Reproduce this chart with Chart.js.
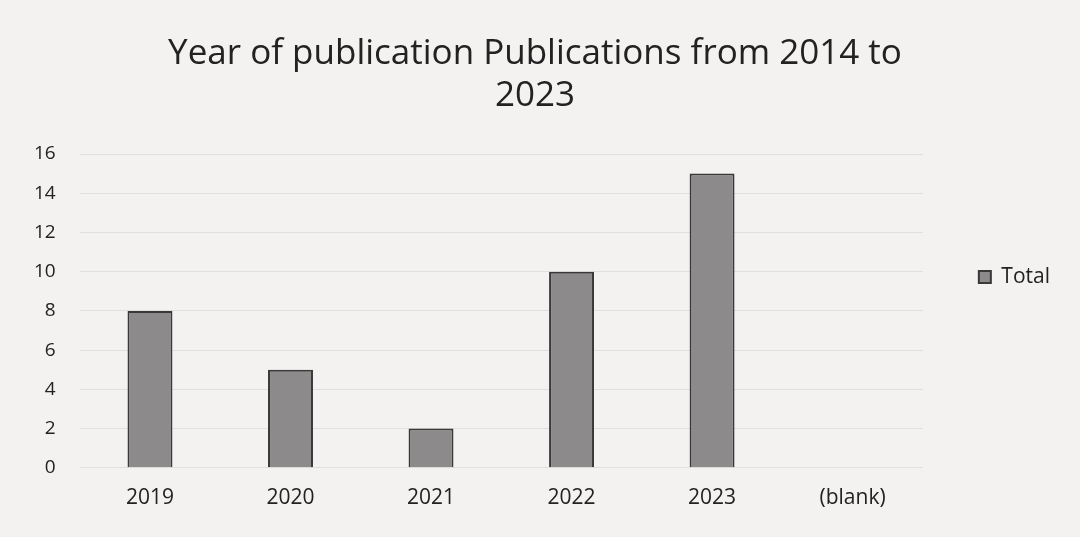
<!DOCTYPE html>
<html>
<head>
    <title>Year of publication</title>
    <script src="https://cdn.jsdelivr.net/npm/chart.js"></script>
    <style>
        html, body { margin: 0; padding: 0; background: #f4f2f1; }
        #wrap { width: 1080px; height: 537px; }
    </style>
</head>
<body>
    <div id="wrap"><canvas id="myChart"></canvas></div>
    <script>
        // data
        const years = ['2019', '2020', '2021', '2022', '2023', '(blank)'];
        const totals = [8, 5, 2, 10, 15, null];
        const yTicks = [0, 2, 4, 6, 8, 10, 12, 14, 16];

        const config = {
            type: 'bar',
            data: {
                labels: years,
                datasets: [{
                    label: 'Total',
                    data: totals,
                    backgroundColor: '#8c8a8b',
                    borderColor: '#3a3839',
                    borderWidth: 2,
                    categoryPercentage: 1,
                    barPercentage: 0.32
                }]
            },
            options: {
                responsive: true,
                maintainAspectRatio: false,
                animation: false,
                layout: { padding: { left: 10, right: 20, top: 33, bottom: 16 } },
                scales: {
                    x: {
                        grid: { display: false },
                        border: { display: false },
                        ticks: { color: '#222', font: { family: 'Open Sans', size: 21 }, padding: 10 }
                    },
                    y: {
                        min: 0,
                        max: 16,
                        afterBuildTicks: function (axis) {
                            axis.ticks = yTicks.map(v => ({ value: v }));
                        },
                        grid: { color: 'rgba(0,0,0,0.08)', drawTicks: false },
                        border: { display: false },
                        ticks: { color: '#222', font: { family: 'Open Sans', size: 19 }, padding: 24 }
                    }
                },
                plugins: {
                    legend: {
                        position: 'right',
                        labels: {
                            color: '#222',
                            font: { family: 'Open Sans', size: 21 },
                            boxWidth: 12,
                            boxHeight: 12,
                            padding: 56
                        }
                    },
                    title: {
                        display: true,
                        text: ['Year of publication Publications from 2014 to', '2023'],
                        color: '#222',
                        font: { family: 'Open Sans', size: 35, weight: 'normal' },
                        padding: { top: 0, bottom: 37 },
                        lineHeight: 1.36
                    },
                    tooltip: { enabled: false }
                }
            }
        };

        var myChart = new Chart(document.getElementById('myChart'), config);
    </script>
</body>
</html>
